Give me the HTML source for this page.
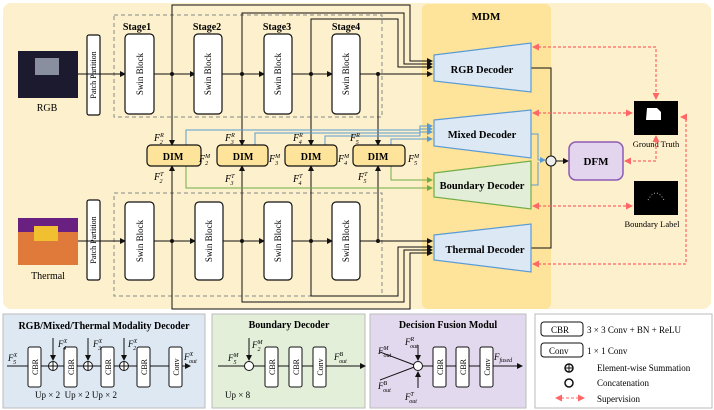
<!DOCTYPE html>
<html><head><meta charset="utf-8"><style>body{margin:0;background:#fff}svg{display:block;font-family:"Liberation Serif",serif}</style></head><body>
<svg width="714" height="410" viewBox="0 0 714 410" xmlns="http://www.w3.org/2000/svg">
<defs>
<marker id="a" markerWidth="6" markerHeight="6" refX="5" refY="3" orient="auto" markerUnits="userSpaceOnUse"><path d="M0,0L6,3L0,6z" fill="#111"/></marker>
<marker id="ab" markerWidth="6" markerHeight="6" refX="5" refY="3" orient="auto" markerUnits="userSpaceOnUse"><path d="M0,0L6,3L0,6z" fill="#5b9bd5"/></marker>
<marker id="ag" markerWidth="6" markerHeight="6" refX="5" refY="3" orient="auto" markerUnits="userSpaceOnUse"><path d="M0,0L6,3L0,6z" fill="#70ad47"/></marker>
<marker id="ar" markerWidth="7" markerHeight="7" refX="6" refY="3.5" orient="auto" markerUnits="userSpaceOnUse"><path d="M0,0L7,3.5L0,7z" fill="#f66"/></marker>
<marker id="ars" markerWidth="7" markerHeight="7" refX="1" refY="3.5" orient="auto" markerUnits="userSpaceOnUse"><path d="M7,0L0,3.5L7,7z" fill="#f66"/></marker>
</defs>
<rect x="3" y="3" width="708" height="306" rx="8" fill="#fdf0cc"/>
<rect x="422" y="4" width="129" height="305" rx="6" fill="#fde49a"/>
<text x="486" y="20" font-size="11" font-weight="bold" text-anchor="middle">MDM</text>
<!-- images -->
<rect x="18" y="51" width="60" height="47" fill="#1c1a2e"/><rect x="35" y="58" width="24" height="17" fill="#8a8fa0"/>
<text x="47" y="111" font-size="10" text-anchor="middle">RGB</text>
<rect x="18" y="218" width="60" height="47" fill="#e07a3a"/><rect x="18" y="218" width="60" height="14" fill="#6a2080"/><rect x="34" y="226" width="24" height="15" fill="#f0c030"/>
<text x="48" y="279" font-size="10" text-anchor="middle">Thermal</text>
<!-- patch partitions -->
<g fill="#fff" stroke="#111" stroke-width="1.2">
<rect x="87" y="35" width="13" height="80" rx="2"/><rect x="87" y="200" width="13" height="80" rx="2"/>
</g>
<text transform="translate(96,75) rotate(-90)" font-size="8" text-anchor="middle">Patch Partition</text>
<text transform="translate(96,240) rotate(-90)" font-size="8" text-anchor="middle">Patch Partition</text>
<g stroke="#888" fill="none" stroke-dasharray="4,3"><rect x="114" y="15" width="268" height="102"/><rect x="114" y="193" width="268" height="103"/></g>
<g font-size="10" font-weight="bold" text-anchor="middle"><text x="137" y="30">Stage1</text><text x="207" y="30">Stage2</text><text x="277" y="30">Stage3</text><text x="346" y="30">Stage4</text></g>
<!-- lines -->
<g stroke="#111" stroke-width="1" fill="none">
<path d="M78,74H125" marker-end="url(#a)"/><path d="M154,74H195" marker-end="url(#a)"/><path d="M222,74H264" marker-end="url(#a)"/><path d="M292,74H332" marker-end="url(#a)"/><path d="M360,74H432" marker-end="url(#a)"/>
<path d="M78,241H125" marker-end="url(#a)"/><path d="M154,241H195" marker-end="url(#a)"/><path d="M222,241H264" marker-end="url(#a)"/><path d="M292,241H332" marker-end="url(#a)"/><path d="M360,241H432" marker-end="url(#a)"/>
<path d="M172,74V5H410V61H432" marker-end="url(#a)"/><path d="M242,74V13H404V64H432" marker-end="url(#a)"/><path d="M311,74V19H398V67H432" marker-end="url(#a)"/>
<path d="M172,74V145" marker-end="url(#a)"/><path d="M242,74V145" marker-end="url(#a)"/><path d="M311,74V145" marker-end="url(#a)"/><path d="M378,74V145" marker-end="url(#a)"/>
<path d="M172,241V166" marker-end="url(#a)"/><path d="M242,241V166" marker-end="url(#a)"/><path d="M311,241V166" marker-end="url(#a)"/><path d="M378,241V166" marker-end="url(#a)"/>
<path d="M172,166V309H410V253H432" marker-end="url(#a)"/><path d="M242,241V302H404V250H432" marker-end="url(#a)"/><path d="M311,241V296H398V247H432" marker-end="url(#a)"/>
<path d="M531,68H551V156"/><path d="M531,248H551V166"/><path d="M556,161H568" marker-end="url(#a)"/>
</g>
<g fill="#111"><circle cx="172" cy="74" r="2"/><circle cx="242" cy="74" r="2"/><circle cx="311" cy="74" r="2"/><circle cx="378" cy="74" r="2"/><circle cx="172" cy="241" r="2"/><circle cx="242" cy="241" r="2"/><circle cx="311" cy="241" r="2"/><circle cx="378" cy="241" r="2"/></g>
<!-- swin blocks -->
<g fill="#fff" stroke="#111" stroke-width="1.2">
<rect x="125" y="34" width="29" height="80" rx="4"/><rect x="194" y="34" width="28" height="80" rx="4"/><rect x="264" y="34" width="28" height="80" rx="4"/><rect x="332" y="34" width="28" height="80" rx="4"/>
<rect x="125" y="202" width="29" height="78" rx="4"/><rect x="195" y="202" width="28" height="78" rx="4"/><rect x="264" y="202" width="28" height="78" rx="4"/><rect x="332" y="202" width="28" height="78" rx="4"/>
</g>
<g font-size="9" text-anchor="middle">
<text transform="translate(143,74) rotate(-90)">Swin Block</text><text transform="translate(211,74) rotate(-90)">Swin Block</text><text transform="translate(281,74) rotate(-90)">Swin Block</text><text transform="translate(349,74) rotate(-90)">Swin Block</text>
<text transform="translate(143,241) rotate(-90)">Swin Block</text><text transform="translate(212,241) rotate(-90)">Swin Block</text><text transform="translate(281,241) rotate(-90)">Swin Block</text><text transform="translate(349,241) rotate(-90)">Swin Block</text>
</g>
<!-- blue / green -->
<g fill="none" stroke="#5b9bd5" stroke-width="1">
<path d="M186,145V130H420V126H432" marker-end="url(#ab)"/><path d="M255,145V133H420V129H432" marker-end="url(#ab)"/><path d="M325,145V136H420V132H432" marker-end="url(#ab)"/><path d="M391,145V139H432" marker-end="url(#ab)"/>
<path d="M531,134H538V160H545" marker-end="url(#ab)"/><path d="M531,185H538V162"/>
</g>
<g fill="none" stroke="#70ad47" stroke-width="1">
<path d="M186,166V188H432" marker-end="url(#ag)"/><path d="M391,166V180H432" marker-end="url(#ag)"/>
</g>
<!-- DIM -->
<g fill="#fde49a" stroke="#111" stroke-width="1.2">
<rect x="147" y="145" width="54" height="21" rx="4"/><rect x="217" y="145" width="51" height="21" rx="4"/><rect x="285" y="145" width="52" height="21" rx="4"/><rect x="353" y="145" width="52" height="21" rx="4"/>
</g>
<g font-size="10" font-weight="bold" text-anchor="middle"><text x="173" y="160">DIM</text><text x="243" y="160">DIM</text><text x="311" y="160">DIM</text><text x="378" y="160">DIM</text></g>
<g font-size="10" font-style="italic">
<text x="154" y="141">F<tspan font-size="6" dy="-4">R</tspan><tspan font-size="6" dx="-4" dy="7">2</tspan></text>
<text x="225" y="141">F<tspan font-size="6" dy="-4">R</tspan><tspan font-size="6" dx="-4" dy="7">3</tspan></text>
<text x="293" y="141">F<tspan font-size="6" dy="-4">R</tspan><tspan font-size="6" dx="-4" dy="7">4</tspan></text>
<text x="350" y="141">F<tspan font-size="6" dy="-4">R</tspan><tspan font-size="6" dx="-4" dy="7">5</tspan></text>
<text x="154" y="180">F<tspan font-size="6" dy="-4">T</tspan><tspan font-size="6" dx="-4" dy="7">2</tspan></text>
<text x="225" y="182">F<tspan font-size="6" dy="-4">T</tspan><tspan font-size="6" dx="-4" dy="7">3</tspan></text>
<text x="293" y="182">F<tspan font-size="6" dy="-4">T</tspan><tspan font-size="6" dx="-4" dy="7">4</tspan></text>
<text x="358" y="180">F<tspan font-size="6" dy="-4">T</tspan><tspan font-size="6" dx="-4" dy="7">5</tspan></text>
<text x="199" y="162">F<tspan font-size="6" dy="-4">M</tspan><tspan font-size="6" dx="-5" dy="7">2</tspan></text>
<text x="269" y="162">F<tspan font-size="6" dy="-4">M</tspan><tspan font-size="6" dx="-5" dy="7">3</tspan></text>
<text x="338" y="162">F<tspan font-size="6" dy="-4">M</tspan><tspan font-size="6" dx="-5" dy="7">4</tspan></text>
<text x="408" y="162">F<tspan font-size="6" dy="-4">M</tspan><tspan font-size="6" dx="-5" dy="7">5</tspan></text>
</g>
<!-- decoders -->
<g stroke-width="1.2">
<polygon points="434,55 531,43 531,92 434,81" fill="#dce8f4" stroke="#5b9bd5"/>
<polygon points="434,120 531,110 531,158 434,146" fill="#dce8f4" stroke="#5b9bd5"/>
<polygon points="434,173 531,161 531,209 434,197" fill="#e2eed8" stroke="#70ad47"/>
<polygon points="434,235 531,224 531,272 434,260" fill="#dce8f4" stroke="#5b9bd5"/>
</g>
<g font-size="10.5" font-weight="bold" text-anchor="middle"><text x="482" y="73">RGB Decoder</text><text x="482" y="138">Mixed Decoder</text><text x="482" y="189">Boundary Decoder</text><text x="485" y="253">Thermal Decoder</text></g>
<circle cx="551" cy="161" r="5" fill="#eee" stroke="#111"/>
<rect x="569" y="142" width="54" height="38" rx="7" fill="#e3d5ee" stroke="#8e5bb5" stroke-width="1.5"/>
<text x="596" y="165" font-size="11" font-weight="bold" text-anchor="middle">DFM</text>
<rect x="634" y="101" width="44" height="34" fill="#000"/><path d="M647,108h10l4,4v8h-15z" fill="#fff"/>
<text x="656" y="147" font-size="8.5" text-anchor="middle">Ground Truth</text>
<rect x="634" y="181" width="44" height="34" fill="#000"/><path d="M648,200q8,-14 16,0" stroke="#aaa" stroke-dasharray="1,2" fill="none"/>
<text x="652" y="227" font-size="8.5" text-anchor="middle">Boundary Label</text>
<g stroke="#f66" stroke-width="1.2" stroke-dasharray="3,2" fill="none">
<path d="M533,47H656V99" marker-start="url(#ars)" marker-end="url(#ar)"/>
<path d="M533,113H632" marker-start="url(#ars)" marker-end="url(#ar)"/>
<path d="M656,136V161H625" marker-start="url(#ars)" marker-end="url(#ar)"/>
<path d="M533,206H632" marker-start="url(#ars)" marker-end="url(#ar)"/>
<path d="M533,264H686V117H681" marker-start="url(#ars)" marker-end="url(#ar)"/>
</g>
<!-- bottom panels -->
<rect x="3" y="314" width="202" height="94" fill="#dde8f3" stroke="#bbb"/>
<rect x="212" y="314" width="153" height="94" fill="#e3efd9" stroke="#bbb"/>
<rect x="370" y="314" width="156" height="94" fill="#e3d9ee" stroke="#bbb"/>
<rect x="535" y="314" width="177" height="94" fill="#fff" stroke="#bbb"/>
<g font-size="10" font-weight="bold" text-anchor="middle"><text x="104" y="329">RGB/Mixed/Thermal Modality Decoder</text><text x="289" y="328">Boundary Decoder</text><text x="448" y="328">Decision Fusion Modul</text></g>
<g stroke="#111" fill="none">
<path d="M7,366H190" marker-end="url(#a)"/>
<path d="M53,338V360" marker-end="url(#a)"/><path d="M88,338V360" marker-end="url(#a)"/><path d="M124,338V360" marker-end="url(#a)"/>
<path d="M218,366H365" marker-end="url(#a)"/><path d="M249,338V360" marker-end="url(#a)"/>
<path d="M380,352L417,366M380,380L417,366M374,366" /><path d="M418,345V360" marker-end="url(#a)"/><path d="M418,388V372" marker-end="url(#a)"/><path d="M423,366H522" marker-end="url(#a)"/>
</g>
<g fill="#fff" stroke="#111"><circle cx="53" cy="366" r="4.5"/><circle cx="88" cy="366" r="4.5"/><circle cx="124" cy="366" r="4.5"/><circle cx="249" cy="366" r="4.5"/><circle cx="418" cy="366" r="4.5"/></g>
<g stroke="#111"><path d="M48.5,366h9M53,361.5v9M83.5,366h9M88,361.5v9M119.5,366h9M124,361.5v9"/></g>
<g fill="#fff" stroke="#111" stroke-width="1">
<rect x="28" y="347" width="13" height="40" rx="2"/><rect x="64" y="347" width="13" height="40" rx="2"/><rect x="101" y="347" width="13" height="40" rx="2"/><rect x="137" y="347" width="13" height="40" rx="2"/><rect x="169" y="347" width="13" height="40" rx="2"/>
<rect x="265" y="347" width="13" height="40" rx="2"/><rect x="289" y="347" width="13" height="40" rx="2"/><rect x="313" y="347" width="13" height="40" rx="2"/>
<rect x="433" y="347" width="13" height="40" rx="2"/><rect x="456" y="347" width="13" height="40" rx="2"/><rect x="480" y="347" width="13" height="40" rx="2"/>
</g>
<g font-size="8" text-anchor="middle">
<text transform="translate(38,367) rotate(-90)">CBR</text><text transform="translate(74,367) rotate(-90)">CBR</text><text transform="translate(111,367) rotate(-90)">CBR</text><text transform="translate(147,367) rotate(-90)">CBR</text><text transform="translate(179,367) rotate(-90)">Conv</text>
<text transform="translate(275,367) rotate(-90)">CBR</text><text transform="translate(299,367) rotate(-90)">CBR</text><text transform="translate(323,367) rotate(-90)">Conv</text>
<text transform="translate(443,367) rotate(-90)">CBR</text><text transform="translate(466,367) rotate(-90)">CBR</text><text transform="translate(490,367) rotate(-90)">Conv</text>
</g>
<g font-size="9"><text x="35" y="398">Up × 2 &#160;Up × 2 Up × 2</text><text x="225" y="398">Up × 8</text></g>
<g font-size="9" font-style="italic">
<text x="8" y="361">F<tspan font-size="6" dy="-4">X</tspan><tspan font-size="6" dx="-4" dy="7">5</tspan></text>
<text x="58" y="347">F<tspan font-size="6" dy="-4">X</tspan><tspan font-size="6" dx="-4" dy="7">4</tspan></text>
<text x="93" y="347">F<tspan font-size="6" dy="-4">X</tspan><tspan font-size="6" dx="-4" dy="7">3</tspan></text>
<text x="128" y="347">F<tspan font-size="6" dy="-4">X</tspan><tspan font-size="6" dx="-4" dy="7">2</tspan></text>
<text x="184" y="360">F<tspan font-size="6" dy="-4">X</tspan><tspan font-size="6" dx="-4" dy="7">out</tspan></text>
<text x="228" y="361">F<tspan font-size="6" dy="-4">M</tspan><tspan font-size="6" dx="-5" dy="7">5</tspan></text>
<text x="252" y="348">F<tspan font-size="6" dy="-4">M</tspan><tspan font-size="6" dx="-5" dy="7">2</tspan></text>
<text x="334" y="360">F<tspan font-size="6" dy="-4">B</tspan><tspan font-size="6" dx="-4" dy="7">out</tspan></text>
<text x="378" y="354">F<tspan font-size="6" dy="-4">M</tspan><tspan font-size="6" dx="-5" dy="7">out</tspan></text>
<text x="378" y="389">F<tspan font-size="6" dy="-4">B</tspan><tspan font-size="6" dx="-4" dy="7">out</tspan></text>
<text x="405" y="345">F<tspan font-size="6" dy="-4">R</tspan><tspan font-size="6" dx="-4" dy="7">out</tspan></text>
<text x="405" y="400">F<tspan font-size="6" dy="-4">T</tspan><tspan font-size="6" dx="-4" dy="7">out</tspan></text>
<text x="494" y="360">F<tspan font-size="6" dy="2">fused</tspan></text>
</g>
<g fill="#fff" stroke="#111"><rect x="541" y="322" width="42" height="14" rx="3"/><rect x="541" y="343" width="42" height="14" rx="3"/></g>
<g font-size="9"><text x="551" y="333">CBR</text><text x="549" y="354">Conv</text>
<text x="587" y="333">3 × 3 Conv + BN + ReLU</text><text x="587" y="354">1 × 1 Conv</text>
<text x="597" y="371">Element-wise Summation</text><text x="597" y="386">Concatenation</text><text x="597" y="402">Supervision</text></g>
<circle cx="569" cy="368" r="4" fill="#fff" stroke="#111" stroke-width="1.5"/><path d="M565,368h8M569,364v8" stroke="#111"/>
<circle cx="569" cy="383" r="4" fill="#fff" stroke="#111" stroke-width="1.5"/>
<path d="M556,398H584" stroke="#f66" stroke-dasharray="3,2" marker-start="url(#ars)" marker-end="url(#ar)"/>
</svg>
</body></html>
